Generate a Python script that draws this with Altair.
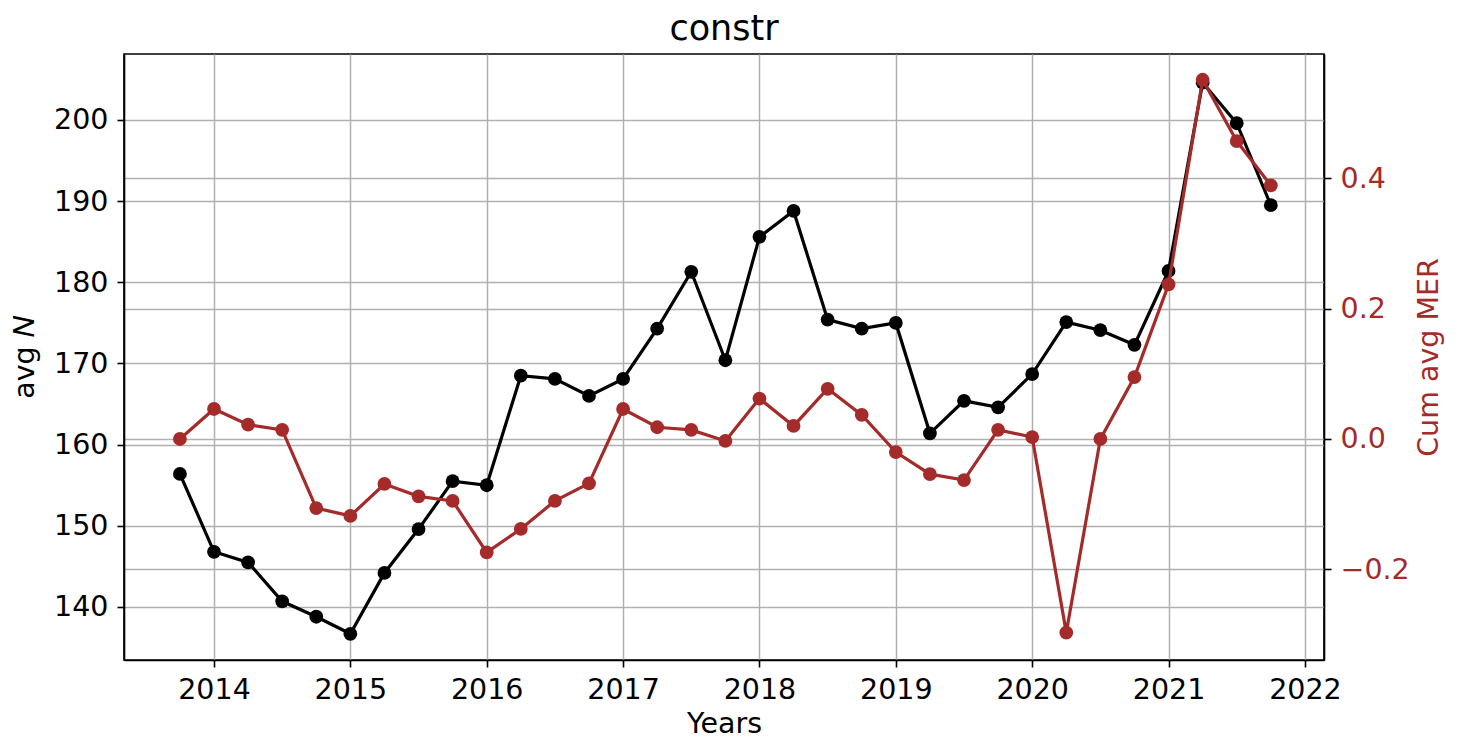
import altair as alt
import pandas as pd

years = [2013.75, 2014.0, 2014.25, 2014.5, 2014.75, 2015.0, 2015.25, 2015.5, 2015.75,
         2016.0, 2016.25, 2016.5, 2016.75, 2017.0, 2017.25, 2017.5, 2017.75,
         2018.0, 2018.25, 2018.5, 2018.75, 2019.0, 2019.25, 2019.5, 2019.75,
         2020.0, 2020.25, 2020.5, 2020.75, 2021.0, 2021.25, 2021.5, 2021.75]

avg_n = [156.4, 146.8, 145.5, 140.7, 138.8, 136.7, 144.2, 149.6, 155.5,
         155.0, 168.5, 168.1, 166.0, 168.1, 174.3, 181.3, 170.4,
         185.6, 188.8, 175.4, 174.3, 175.0, 161.4, 165.4, 164.6,
         168.7, 175.1, 174.1, 172.3, 181.4, 204.6, 199.6, 189.5]

cum_mer = [0.0, 0.046, 0.022, 0.014, -0.106, -0.118, -0.069, -0.088, -0.095,
           -0.174, -0.138, -0.095, -0.068, 0.046, 0.018, 0.014, -0.003,
           0.062, 0.020, 0.077, 0.037, -0.020, -0.054, -0.063, 0.014,
           0.003, -0.297, 0.0, 0.095, 0.237, 0.551, 0.457, 0.389]

x_ticks = [2014, 2015, 2016, 2017, 2018, 2019, 2020, 2021, 2022]
left_ticks = [140, 150, 160, 170, 180, 190, 200]
right_ticks = [-0.2, 0.0, 0.2, 0.4]

df = pd.DataFrame({"year": years, "avg_n": avg_n, "cum_mer": cum_mer})

FONT = "DejaVu Sans"
RED = "#a52a2a"
GRID = "#b0b0b0"
FS = 28.5

common_axis = dict(
    labelFont=FONT, titleFont=FONT, labelFontSize=FS, titleFontSize=FS,
    titleFontWeight="normal",
    gridColor=GRID, gridWidth=1.5, gridOpacity=1,
    domainColor="black", domainWidth=1.6,
    tickColor="black", tickWidth=1.6, tickSize=7,
)

x_enc = alt.X(
    "year:Q",
    scale=alt.Scale(domain=[2013.34, 2022.14], nice=False, zero=False),
    axis=alt.Axis(
        values=x_ticks, format="d", title="Years", grid=True,
        labelPadding=8, titlePadding=6,
        labelColor="black", titleColor="black", **common_axis,
    ),
)

black_line = alt.Chart(df).mark_line(
    color="black", strokeWidth=3.2,
    point=alt.OverlayMarkDef(color="black", size=190, filled=True, opacity=1),
).encode(
    x=x_enc,
    y=alt.Y(
        "avg_n:Q",
        scale=alt.Scale(domain=[133.47, 208.13], nice=False, zero=False),
        axis=alt.Axis(
            values=left_ticks, format="d", title="avg 𝑁", orient="left", grid=True,
            labelPadding=9, titlePadding=14,
            labelColor="black", titleColor="black", **common_axis,
        ),
    ),
)

red_line = alt.Chart(df).mark_line(
    color=RED, strokeWidth=3.2,
    point=alt.OverlayMarkDef(color=RED, size=190, filled=True, opacity=1),
).encode(
    x=x_enc,
    y=alt.Y(
        "cum_mer:Q",
        scale=alt.Scale(domain=[-0.339, 0.5905], nice=False, zero=False),
        axis=alt.Axis(
            values=right_ticks, format=".1f", title="Cum avg MER", orient="right", grid=True,
            labelPadding=9, titlePadding=34, titleAngle=270,
            labelColor=RED, titleColor=RED, **common_axis,
        ),
    ),
)

chart = alt.layer(black_line, red_line).resolve_scale(y="independent").properties(
    width=1200,
    height=606,
    background="white",
    title=alt.Title("constr", fontSize=35, font=FONT, fontWeight="normal", color="black", offset=7),
    autosize=alt.AutoSizeParams(type="none"),
    padding={"left": 116, "top": 46, "right": 129, "bottom": 82},
).configure_view(
    stroke="black", strokeWidth=1.6,
)

chart.save("out.html", embed_options={"renderer": "svg", "actions": False})
